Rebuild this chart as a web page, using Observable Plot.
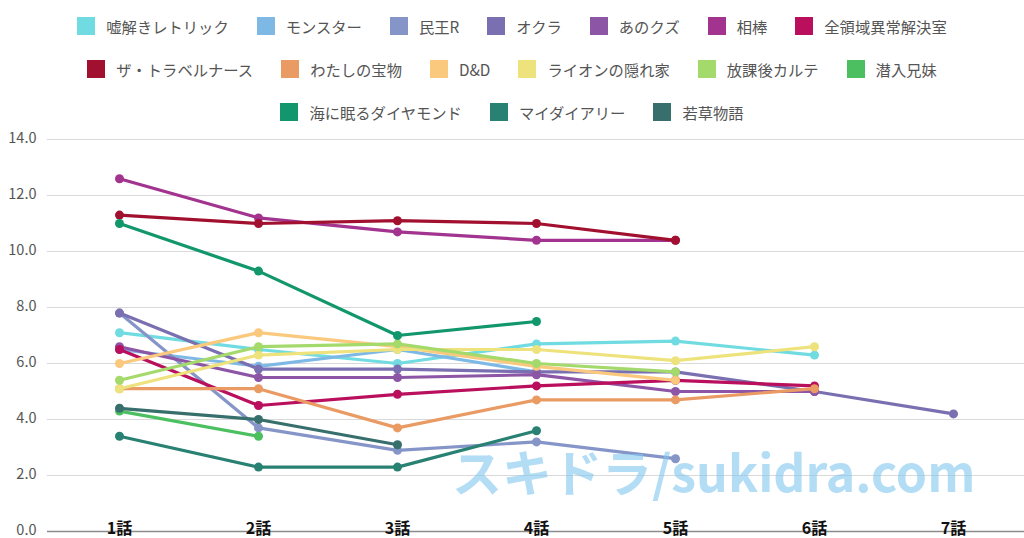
<!DOCTYPE html>
<html>
<head>
<meta charset="utf-8">
<script src="https://cdn.jsdelivr.net/npm/d3@7"></script>
<script src="https://cdn.jsdelivr.net/npm/@observablehq/plot@0.6"></script>
<style>
  html, body { margin: 0; padding: 0; background: #fff; }
  body { width: 1024px; height: 538px; position: relative; overflow: hidden;
         font-family: "Noto Sans CJK JP", "Noto Sans", sans-serif; }
  #legend { position: absolute; left: 0; top: 0; width: 1024px; z-index: 2; }
  .row { display: flex; justify-content: center; align-items: center; height: 43px; }
  .item { display: flex; align-items: center; margin: 0 14px; font-size: 15.3px; color: #555; white-space: nowrap; }
  .box { width: 18px; height: 18px; margin-right: 11px; }
  #chart { position: absolute; left: 0; top: 0; }
  #wm { position: absolute; left: 452px; top: 434px; z-index: 3; font-size: 50px; font-weight: bold;
        color: rgb(128, 200, 240); opacity: 0.6; white-space: nowrap; font-family: "Noto Sans CJK JP", sans-serif; }
</style>
</head>
<body>
<div id="legend"></div>
<div id="chart"></div>
<div id="wm">スキドラ/sukidra.com</div>
<script>
// ---- data ----
const episodes = ["1話", "2話", "3話", "4話", "5話", "6話", "7話"];
const yTicks = [0, 2, 4, 6, 8, 10, 12, 14];
const names = ["嘘解きレトリック", "モンスター", "民王R", "オクラ", "あのクズ", "相棒", "全領域異常解決室",
  "ザ・トラベルナース", "わたしの宝物", "D&D", "ライオンの隠れ家", "放課後カルテ", "潜入兄妹",
  "海に眠るダイヤモンド", "マイダイアリー", "若草物語"];
const usotoki   = [7.1, 6.5, 6.0, 6.7, 6.8, 6.3];
const monster   = [6.5, 5.9, 6.5, 5.7];
const minnouR   = [7.8, 3.7, 2.9, 3.2, 2.6];
const okura     = [7.8, 5.8, 5.8, 5.7, 5.7, 5.0, 4.2];
const anokuzu   = [6.6, 5.5, 5.5, 5.6, 5.0, 5.0];
const aibou     = [12.6, 11.2, 10.7, 10.4, 10.4];
const zenryoiki = [6.5, 4.5, 4.9, 5.2, 5.4, 5.2];
const travel    = [11.3, 11.0, 11.1, 11.0, 10.4];
const takaramono= [5.1, 5.1, 3.7, 4.7, 4.7, 5.1];
const dd        = [6.0, 7.1, 6.6, 5.9, 5.4];
const lion      = [5.1, 6.3, 6.5, 6.5, 6.1, 6.6];
const karte     = [5.4, 6.6, 6.7, 6.0, 5.7];
const sennyu    = [4.3, 3.4];
const diamond   = [11.0, 9.3, 7.0, 7.5];
const mydiary   = [3.4, 2.3, 2.3, 3.6];
const wakakusa  = [4.4, 4.0, 3.1];
const seriesValues = [usotoki, monster, minnouR, okura, anokuzu, aibou, zenryoiki, travel,
  takaramono, dd, lion, karte, sennyu, diamond, mydiary, wakakusa];

// ---- styles ----
const colors = ["#70dbe0", "#7eb9e6", "#8595c8", "#7a6fb0", "#8d55a5", "#a2338f", "#b90f5c",
  "#a2102f", "#ea9a63", "#fbc97d", "#ede27b", "#a4d96b", "#4cc060", "#11976b", "#288172", "#376f6c"];
const legendRows = [[0, 7], [7, 13], [13, 16]];

const rows = names.flatMap((name, i) =>
  seriesValues[i].map((v, j) => ({name, ep: episodes[j], v})));

// legend
const legend = document.getElementById("legend");
legend.style.paddingTop = "4px";
for (const [a, b] of legendRows) {
  const r = document.createElement("div");
  r.className = "row";
  for (let i = a; i < b; i++) {
    const it = document.createElement("div");
    it.className = "item";
    const bx = document.createElement("span");
    bx.className = "box";
    bx.style.background = colors[i];
    const t = document.createElement("span");
    t.textContent = names[i];
    it.append(bx, t);
    r.append(it);
  }
  legend.append(r);
}

const seriesMarks = names.flatMap((name, i) => {
  const data = rows.filter(d => d.name === name);
  return [
    Plot.line(data, {x: "ep", y: "v", stroke: colors[i], strokeWidth: 3.2}),
    Plot.dot(data, {x: "ep", y: "v", fill: colors[i], r: 4.5})
  ];
});

const chart = Plot.plot({
  width: 1024,
  height: 538,
  marginTop: 139,
  marginBottom: 7,
  marginLeft: 47,
  marginRight: 0,
  style: {fontFamily: "'Noto Sans CJK JP', 'Noto Sans', sans-serif", background: "transparent", overflow: "visible"},
  x: {type: "point", domain: episodes, padding: 0.5, axis: null},
  y: {domain: [0, 14], axis: null},
  marks: [
    Plot.ruleY(yTicks.filter(d => d > 0), {stroke: "#d9d9d9", strokeWidth: 1.2}),
    Plot.ruleY([0], {stroke: "#8c8c8c", strokeWidth: 1.3}),
    Plot.text(yTicks, {y: d => d, text: d => d.toFixed(1), frameAnchor: "left",
      textAnchor: "end", dx: -11, dy: -1, fontSize: 14.5, fill: "#555"}),
    ...seriesMarks,
    Plot.text(episodes, {x: d => d, y: 0, text: d => d, dy: -3, fontSize: 16, fontWeight: "bold", fill: "#111"})
  ]
});
document.getElementById("chart").append(chart);
</script>
</body>
</html>
